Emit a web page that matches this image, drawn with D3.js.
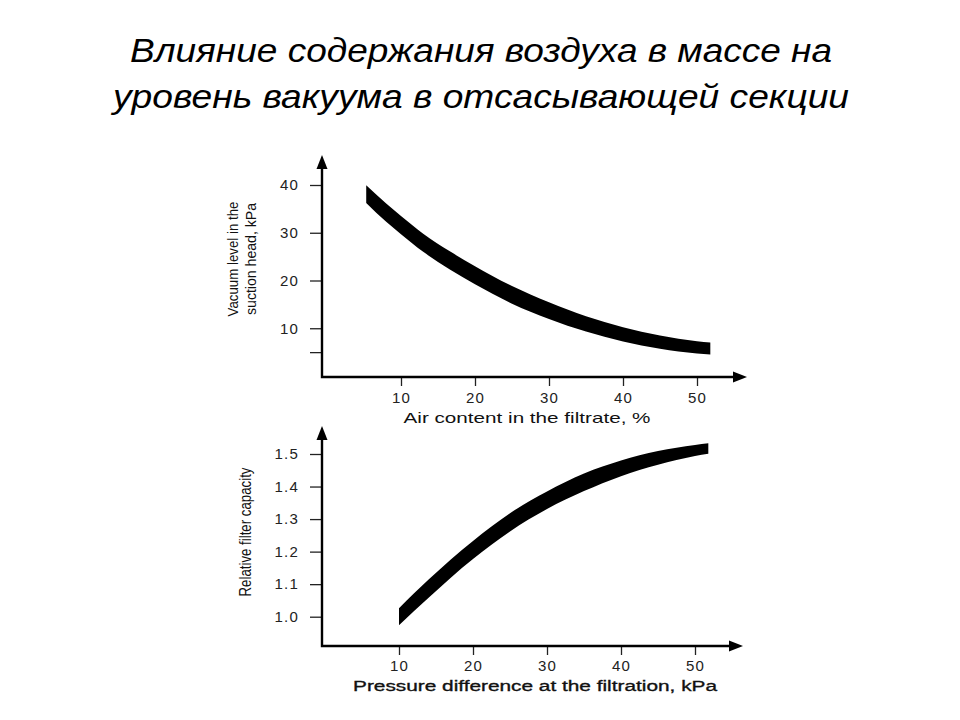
<!DOCTYPE html>
<html>
<head>
<meta charset="utf-8">
<script src="https://cdn.jsdelivr.net/npm/d3@7/dist/d3.min.js"></script>
<style>
  html, body { margin: 0; padding: 0; background: #fff; }
  svg { display: block; }
  text { font-family: "Liberation Sans", Arial, sans-serif; }
</style>
</head>
<body>
<svg id="chart" width="960" height="720"></svg>
<script>
// ---------- data ----------
const titleLines = ["Влияние содержания воздуха в массе на", "уровень вакуума в отсасывающей секции"];

// Top chart: vacuum level vs air content (band: upper / lower edge)
const topX     = [5.3, 8, 10, 13, 16.6, 20, 25, 30, 35, 40, 45, 50, 51.8];
const topUpper = [39.95, 36.1, 33.5, 29.8, 26.1, 23.0, 18.85, 15.45, 12.5, 10.2, 8.5, 7.3, 7.0];
const topLower = [36.25, 32.3, 29.7, 26.0, 22.3, 19.2, 15.15, 11.95, 9.3, 7.2, 5.7, 4.7, 4.5];
const topYTicks = [5, 10, 20, 30, 40];
const topXTicks = [10, 20, 30, 40, 50];
const topXTitle = "Air content in the filtrate, %";
const topYTitle = ["Vacuum level in the", "suction head, kPa"];

// Bottom chart: relative filter capacity vs pressure difference
const botX     = [10, 12, 14, 17, 20, 25, 30, 35, 40, 45, 50, 51.8];
const botUpper = [1.026, 1.071, 1.114, 1.176, 1.233, 1.318, 1.385, 1.440, 1.480, 1.509, 1.528, 1.533];
const botLower = [0.974, 1.017, 1.058, 1.120, 1.177, 1.262, 1.331, 1.386, 1.432, 1.467, 1.494, 1.501];
const botYTicks = [1.0, 1.1, 1.2, 1.3, 1.4, 1.5];
const botXTicks = [10, 20, 30, 40, 50];
const botXTitle = "Pressure difference at the filtration, kPa";
const botYTitle = "Relative filter capacity";

// ---------- drawing ----------
const svg = d3.select("#chart");

// Title
const titleLen = [702, 736];
svg.append("g").selectAll("text").data(titleLines).join("text")
  .attr("x", 481).attr("y", (d, i) => 62 + i * 46)
  .attr("text-anchor", "middle")
  .attr("font-size", 33).attr("font-style", "italic")
  .attr("textLength", (d, i) => titleLen[i]).attr("lengthAdjust", "spacingAndGlyphs")
  .attr("fill", "#000")
  .text(d => d);

function drawPanel(cfg) {
  const g = svg.append("g");
  const x = d3.scaleLinear().domain([0, 50]).range(cfg.xRange);
  const y = d3.scaleLinear().domain(cfg.yDomain).range(cfg.yRange);

  // band
  const pts = cfg.xs.map((v, i) => ({ x: v, u: cfg.upper[i], l: cfg.lower[i] }));
  g.append("path").datum(pts)
    .attr("d", d3.area().x(d => x(d.x)).y0(d => y(d.l)).y1(d => y(d.u)).curve(d3.curveMonotoneX))
    .attr("fill", "#000");

  // y ticks
  const ya = g.append("g").attr("transform", `translate(${cfg.ox},0)`)
    .call(d3.axisLeft(y).tickValues(cfg.yTicks).tickFormat(cfg.yFmt).tickSize(12).tickPadding(11));
  ya.select(".domain").remove();
  ya.selectAll(".tick line").attr("stroke", "#222").attr("stroke-width", 1.3);
  ya.selectAll(".tick text").attr("font-size", 15).attr("fill", "#222")
    .attr("letter-spacing", 1.2)
    .attr("font-family", "Liberation Sans, Arial, sans-serif");

  // x ticks
  const xa = g.append("g").attr("transform", `translate(0,${cfg.oy})`)
    .call(d3.axisBottom(x).tickValues(cfg.xTicks).tickSize(9).tickPadding(cfg.xPad));
  xa.select(".domain").remove();
  xa.selectAll(".tick line").attr("stroke", "#222").attr("stroke-width", 1.3);
  xa.selectAll(".tick text").attr("font-size", 15).attr("fill", "#222")
    .attr("letter-spacing", 1.2)
    .attr("font-family", "Liberation Sans, Arial, sans-serif");

  // axes lines with arrows
  g.append("path")
    .attr("d", `M${cfg.ox},${cfg.yTop + 10} L${cfg.ox},${cfg.oy} L${cfg.xEnd - 10},${cfg.oy}`)
    .attr("fill", "none").attr("stroke", "#000").attr("stroke-width", 2.4);
  g.append("path")
    .attr("d", `M${cfg.ox},${cfg.yTop} L${cfg.ox - 5.5},${cfg.yTop + 14} L${cfg.ox + 5.5},${cfg.yTop + 14} Z`)
    .attr("fill", "#000");
  g.append("path")
    .attr("d", `M${cfg.xEnd},${cfg.oy} L${cfg.xEnd - 14},${cfg.oy - 5.5} L${cfg.xEnd - 14},${cfg.oy + 5.5} Z`)
    .attr("fill", "#000");

  // x title
  g.append("text")
    .attr("x", cfg.xTitleX).attr("y", cfg.xTitleY)
    .attr("text-anchor", "middle")
    .attr("font-size", cfg.xTitleSize).attr("fill", "#111")
    .attr("stroke", "#111").attr("stroke-width", cfg.xTitleStroke)
    .attr("textLength", cfg.xTitleLen).attr("lengthAdjust", "spacingAndGlyphs")
    .text(cfg.xTitle);

  // y title (rotated)
  const lines = Array.isArray(cfg.yTitle) ? cfg.yTitle : [cfg.yTitle];
  lines.forEach((t, i) => {
    g.append("text")
      .attr("transform", `translate(${cfg.yTitleX[i]},${cfg.yTitleY}) rotate(-90)`)
      .attr("text-anchor", "middle")
      .attr("font-size", cfg.yTitleSize).attr("fill", "#111")
      .attr("textLength", cfg.yTitleLen[i]).attr("lengthAdjust", "spacingAndGlyphs")
      .text(t);
  });
}

drawPanel({
  xs: topX, upper: topUpper, lower: topLower,
  xRange: [327, 697], yDomain: [0, 40], yRange: [376, 185],
  ox: 322, oy: 377, yTop: 155, xEnd: 747,
  yTicks: topYTicks, yFmt: d => (d === 5 ? "" : d), xTicks: topXTicks, xPad: 6,
  xTitle: topXTitle, xTitleX: 527, xTitleY: 423, xTitleSize: 14.5, xTitleLen: 247, xTitleStroke: 0,
  yTitle: topYTitle, yTitleX: [238, 256], yTitleY: 259, yTitleLen: [115, 112], yTitleSize: 15.5
});

drawPanel({
  xs: botX, upper: botUpper, lower: botLower,
  xRange: [325, 695], yDomain: [1.0, 1.5], yRange: [616.7, 454],
  ox: 322, oy: 646, yTop: 426, xEnd: 743,
  yTicks: botYTicks, yFmt: d3.format(".1f"), xTicks: botXTicks, xPad: 5,
  xTitle: botXTitle, xTitleX: 535, xTitleY: 691, xTitleSize: 15.5, xTitleLen: 364, xTitleStroke: 0.35,
  yTitle: botYTitle, yTitleX: [251], yTitleY: 532, yTitleLen: [129], yTitleSize: 16
});
</script>
</body>
</html>
